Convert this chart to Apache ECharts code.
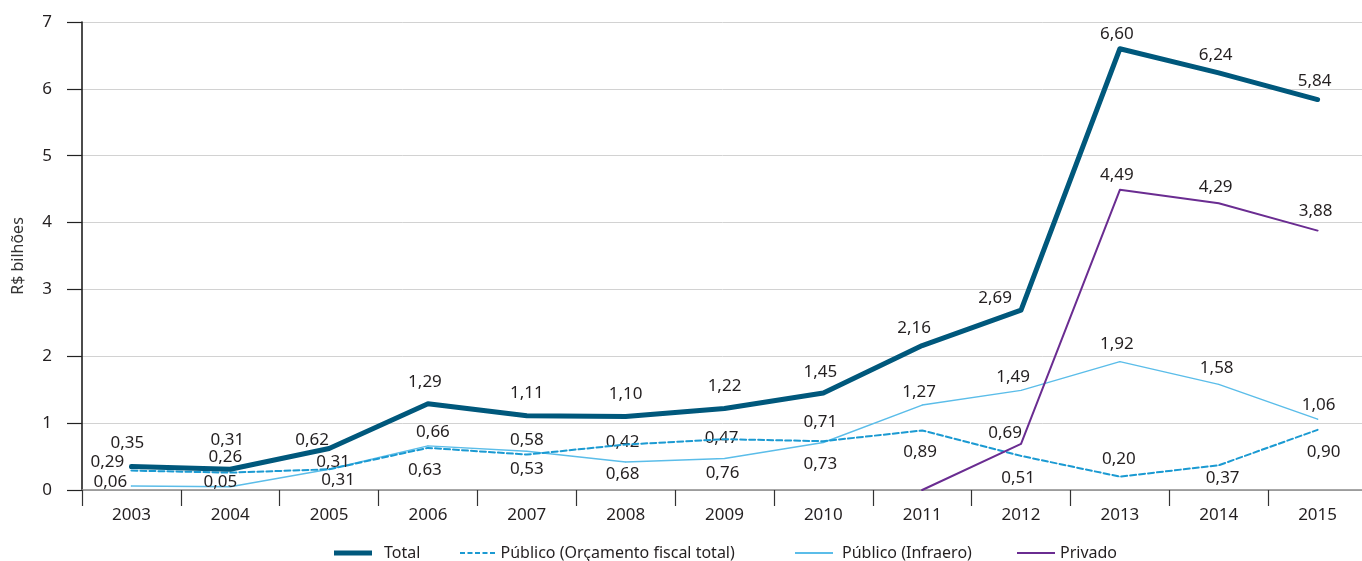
<!DOCTYPE html>
<html>
<head>
<meta charset="utf-8">
<script src="https://cdn.jsdelivr.net/npm/echarts@6/dist/echarts.min.js"></script>
<style>
  html, body { margin: 0; padding: 0; background: #fff; }
  #chart { width: 1362px; height: 561px; }
</style>
</head>
<body>
<div id="chart"></div>
<script>
// Investimentos em aeroportos, R$ bilhões
const years = ['2003','2004','2005','2006','2007','2008','2009','2010','2011','2012','2013','2014','2015'];
const total      = [0.35, 0.31, 0.62, 1.29, 1.11, 1.10, 1.22, 1.45, 2.16, 2.69, 6.60, 6.24, 5.84];
const orcamento  = [0.29, 0.26, 0.31, 0.63, 0.53, 0.68, 0.76, 0.73, 0.89, 0.51, 0.20, 0.37, 0.90];
const infraero   = [0.06, 0.05, 0.31, 0.66, 0.58, 0.42, 0.47, 0.71, 1.27, 1.49, 1.92, 1.58, 1.06];
const privado    = [null, null, null, null, null, null, null, null, 0.00, 0.69, 4.49, 4.29, 3.88];
const yTicks = [0, 1, 2, 3, 4, 5, 6, 7];

// label placement around each point: [dx, dy] from the point to the label centre
const offTotal = [[-4,-23],[-3,-29],[-17,-8],[-3,-22],[0,-23],[0,-22],[0,-22],[-3,-21],[-8,-17],[-26,-12],[-3,-15],[-3,-18],[-3,-18]];
const offOrc   = [[-24,-8],[-5,-15],[4,-7],[-3,22],[0,15],[-3,30],[-2,34],[-3,23],[-2,22],[-3,22],[-1,-17],[4,13],[6,22]];
const offInf   = [[-21,-4],[-10,-5],[9,11],[5,-14],[0,-11],[-3,-20],[-3,-20],[-3,-20],[-3,-13],[-8,-13],[-3,-17],[-2,-16],[1,-14]];
const offPriv  = [null,null,null,null,null,null,null,null,null,[-16,-11],[-3,-15],[-3,-16],[-2,-19]];

const FONT = 'Noto Sans';
const TXT = '#231f20';
const C_TOTAL = '#00587c';
const C_ORC = '#1b9ad2';
const C_INF = '#5bbde9';
const C_PRIV = '#6a2c91';

function fmt(v) { return v.toFixed(2).replace('.', ','); }

function points(values, offsets) {
  return values.map((v, i) => {
    if (v === null) return null;
    const o = offsets[i];
    return {
      value: v,
      label: o ? { show: true, position: 'inside', offset: o } : { show: false }
    };
  });
}

function lineSeries(name, values, offsets, color, width, dash, z) {
  return {
    name: name,
    type: 'line',
    data: points(values, offsets),
    symbol: 'circle',
    symbolSize: 1,
    showAllSymbol: true,
    connectNulls: false,
    z: z,
    itemStyle: { color: color },
    lineStyle: { color: color, width: width, type: dash || 'solid', cap: 'round', join: 'round' },
    label: {
      show: true,
      position: 'inside',
      fontFamily: FONT,
      fontSize: 17,
      color: TXT,
      formatter: p => fmt(p.value)
    },
    emphasis: { disabled: true }
  };
}

function legendAt(name, left, width, height, icon, padLeft) {
  return {
    show: true,
    left: left,
    top: 540,
    orient: 'horizontal',
    itemWidth: width,
    itemHeight: height,
    selectedMode: false,
    data: [{ name: name, icon: icon }],
    textStyle: { fontFamily: FONT, fontSize: 16, color: TXT, padding: [0, 0, 0, padLeft] }
  };
}

const dashIcon = 'path://M0,0h5v2h-5z M7.5,0h5v2h-5z M15,0h5v2h-5z M22.5,0h5v2h-5z M30,0h5v2h-5z';

const chart = echarts.init(document.getElementById('chart'), null, { renderer: 'canvas' });
chart.setOption({
  animation: false,
  backgroundColor: '#ffffff',
  // the plot runs a little past the right edge of the page
  grid: { left: 82, width: 1285, top: 22, bottom: 71, containLabel: false, outerBoundsMode: 'none' },
  xAxis: {
    type: 'category',
    data: years,
    boundaryGap: true,
    axisLine: { show: true, lineStyle: { color: '#8a8a8a', width: 1.5 } },
    axisTick: { show: true, interval: 0, length: 16, lineStyle: { color: '#333', width: 1.2 } },
    axisLabel: { interval: 0, margin: 17, fontFamily: FONT, fontSize: 17, color: TXT },
    splitLine: { show: false }
  },
  yAxis: {
    type: 'value',
    min: yTicks[0],
    max: yTicks[yTicks.length - 1],
    interval: 1,
    name: 'R$ bilhões',
    nameLocation: 'middle',
    nameGap: 56,
    nameTextStyle: { fontFamily: FONT, fontSize: 16, color: '#333' },
    axisLine: { show: true, lineStyle: { color: '#111', width: 1.5 } },
    axisTick: { show: true, length: 15, lineStyle: { color: '#222', width: 1.2 } },
    axisLabel: { margin: 30, fontFamily: FONT, fontSize: 17, color: TXT, formatter: v => String(v) },
    splitLine: { show: true, lineStyle: { color: '#d2d2d2', width: 1 } }
  },
  legend: [
    legendAt('Total', 329, 38, 5, 'rect', 7),
    legendAt('Público (Orçamento fiscal total)', 455, 36, 2, dashIcon, 0),
    legendAt('Público (Infraero)', 790, 38, 2, 'rect', 4),
    legendAt('Privado', 1012, 38, 2, 'rect', 0)
  ],
  series: [
    lineSeries('Público (Infraero)', infraero, offInf, C_INF, 1.5, null, 2),
    lineSeries('Público (Orçamento fiscal total)', orcamento, offOrc, C_ORC, 2, [6, 3], 3),
    lineSeries('Privado', privado, offPriv, C_PRIV, 2, null, 4),
    lineSeries('Total', total, offTotal, C_TOTAL, 5, null, 5)
  ]
});
</script>
</body>
</html>
